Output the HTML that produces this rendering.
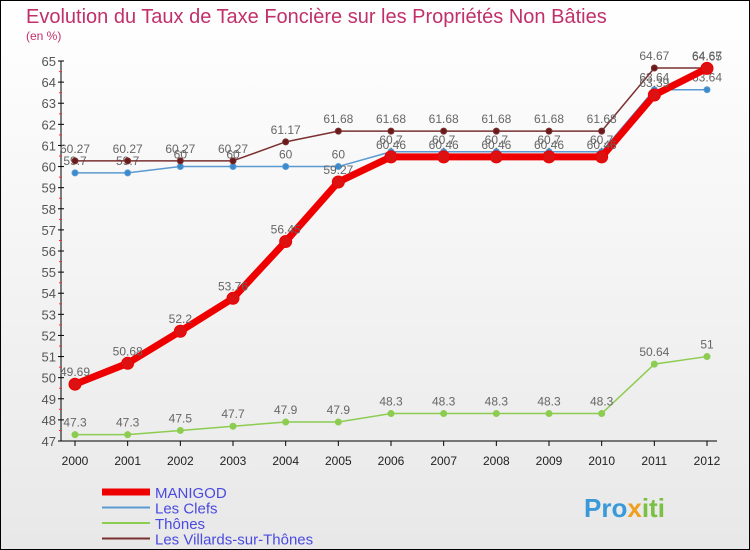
<!DOCTYPE html>
<html><head><meta charset="utf-8"><style>
body{margin:0;background:#fff}
svg{display:block;font-family:"Liberation Sans",sans-serif}
</style></head><body>
<svg id="c" width="750" height="550" viewBox="0 0 750 550">
<defs><linearGradient id="bg" x1="0" y1="0" x2="0" y2="1"><stop offset="0" stop-color="#ffffff"/><stop offset="1" stop-color="#e8e8e8"/></linearGradient></defs>
<rect x="0.5" y="0.5" width="749" height="549" fill="url(#bg)" stroke="#000"/>
<text x="26" y="23" font-size="20" fill="#c0306a">Evolution du Taux de Taxe Foncière sur les Propriétés Non Bâties</text>
<text x="26" y="40" font-size="12" fill="#c0306a">(en %)</text>
<g id="axes"></g>
<g id="series"></g>
<g id="legend"></g>
<text x="584" y="517" font-size="26" font-weight="bold" fill="#3a9ad9">Pro<tspan fill="#f0a020">x</tspan><tspan fill="#7ac043">iti</tspan></text>
</svg>
<script>
const years=[2000,2001,2002,2003,2004,2005,2006,2007,2008,2009,2010,2011,2012];
const yTicks=[47,48,49,50,51,52,53,54,55,56,57,58,59,60,61,62,63,64,65];
const manigod=[49.69,50.68,52.2,53.76,56.45,59.27,60.46,60.46,60.46,60.46,60.46,63.39,64.65];
const clefs=[59.7,59.7,60,60,60,60,60.7,60.7,60.7,60.7,60.7,63.64,63.64];
const thones=[47.3,47.3,47.5,47.7,47.9,47.9,48.3,48.3,48.3,48.3,48.3,50.64,51];
const villards=[60.27,60.27,60.27,60.27,61.17,61.68,61.68,61.68,61.68,61.68,61.68,64.67,64.67];
const NS="http://www.w3.org/2000/svg";
const X=i=>75+i*(707-75)/(years.length-1);
const Y=v=>441-(v-47)*(441-61)/(65-47);
function mk(tag,attrs,parent){const e=document.createElementNS(NS,tag);for(const k in attrs)e.setAttribute(k,attrs[k]);parent.appendChild(e);return e;}
const ax=document.getElementById('axes');
let a=mk('line',{x1:61,y1:61,x2:61,y2:441,stroke:'#000'},ax);


a=mk('line',{x1:61,y1:441,x2:717,y2:441,stroke:'#000'},ax);


yTicks.forEach(v=>{
  const y=Y(v);
  mk('line',{x1:58,y1:y,x2:64,y2:y,stroke:'#000'},ax);
  if(v<65) mk('line',{x1:59,y1:y-10.5,x2:62,y2:y-10.5,stroke:'#e33'},ax);
  const t=mk('text',{x:56,y:y+5,'font-size':13,fill:'#555','text-anchor':'end'},ax);
  t.textContent=v;
  
  
});
years.forEach((yr,i)=>{
  const x=X(i);
  mk('line',{x1:x,y1:441,x2:x,y2:446,stroke:'#000'},ax);
  const t=mk('text',{x:x,y:465,'font-size':12,fill:'#222','text-anchor':'middle'},ax);
  t.textContent=yr;
  
  
});
const sg=document.getElementById('series');
function draw(vals,color,w,r,fill,name){
  const g=mk('g',{},sg);
  
  
  mk('polyline',{points:vals.map((v,i)=>X(i)+','+Y(v)).join(' '),fill:'none',stroke:color,'stroke-width':w,'stroke-linejoin':'round'},g);
  vals.forEach((v,i)=>{
    const c=mk('circle',{cx:X(i),cy:Y(v),r:r,fill:fill,stroke:color,'stroke-width':1},g);
    
    
    const t=mk('text',{x:X(i),y:Y(v)-8,'font-size':12,fill:'#666','text-anchor':'middle'},g);
    t.textContent=v;
    
    
  });
}
draw(thones,'#8ccc50',1.5,3,'#8ccc50','series-thones');
draw(clefs,'#5a9ad0',1.5,3,'#3a8ad0','series-les-clefs');
draw(villards,'#7a3030',1.5,3,'#6a1a1a','series-villards');
draw(manigod,'#ee0000',7,6,'#dd1111','series-manigod');
const lg=document.getElementById('legend');
const items=[['MANIGOD','#ee0000',7],['Les Clefs','#5a9ad0',2],['Thônes','#8ccc50',2],['Les Villards-sur-Thônes','#7a3030',2]];
items.forEach((it,i)=>{
  const y=492+i*15.5;
  const g=mk('g',{},lg);
  
  
  mk('line',{x1:102,y1:y,x2:150,y2:y,stroke:it[1],'stroke-width':it[2]},g);
  const t=mk('text',{x:155,y:y+6,'font-size':15,fill:'#4a4ae0'},g);
  t.textContent=it[0];
});
</script>
</body></html>
